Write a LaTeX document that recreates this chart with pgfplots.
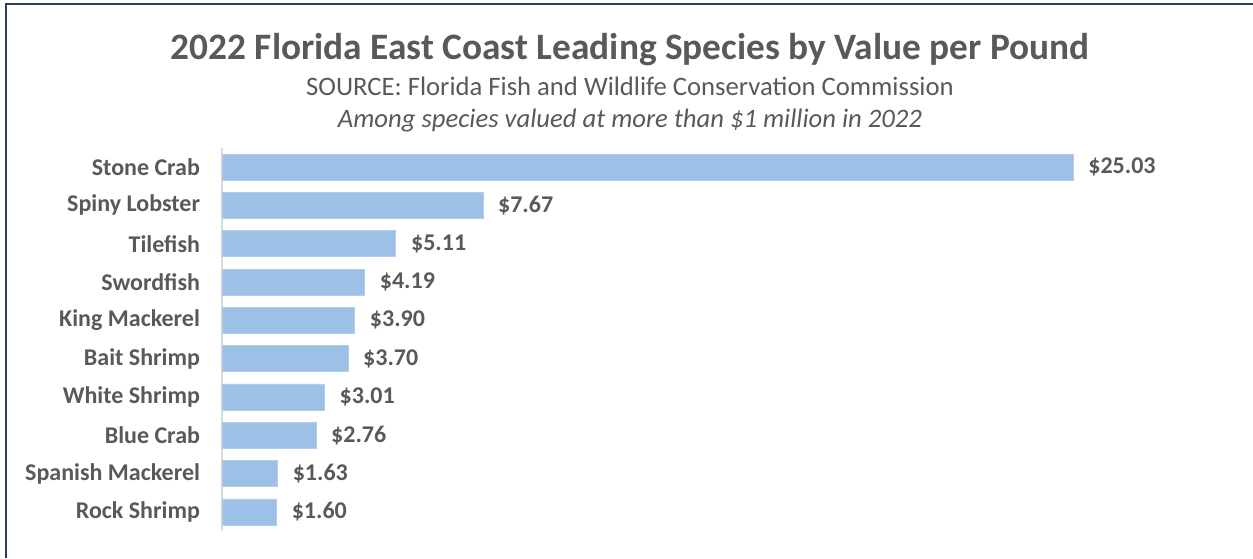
\documentclass[border=0pt]{standalone}
\usepackage{pgfplots}
\pgfplotsset{compat=1.18}
\usepackage{fontspec}
\setmainfont{Carlito}
\definecolor{txt}{HTML}{595959}
\definecolor{barc}{HTML}{9DC0E6}
\definecolor{frame}{HTML}{2B405F}
\begin{document}
\begin{tikzpicture}
\useasboundingbox (0,0) rectangle (939.75pt,-418.5pt);
\draw[frame, line width=2pt] (4.5pt,-418.5pt) -- (4.5pt,-3pt) -- (939.75pt,-3pt);
\node[font=\fontsize{28}{32}\selectfont\bfseries, text=txt, anchor=base] at (472.5pt,-44.5pt) {2022 Florida East Coast Leading Species by Value per Pound};
\node[font=\fontsize{20}{24}\selectfont, text=txt, anchor=base] at (472.5pt,-71.5pt) {SOURCE: Florida Fish and Wildlife Conservation Commission};
\node[font=\fontsize{20}{24}\selectfont\itshape, text=txt, anchor=base] at (472.5pt,-95.5pt) {Among species valued at more than \$1 million in 2022};
\pgfplotstableread{
y val
0 25.03
1 7.67
2 5.11
3 4.19
4 3.90
5 3.70
6 3.01
7 2.76
8 1.63
9 1.60
}\data
\begin{axis}[
  at={(166.5pt,-111pt)}, anchor=north west,
  scale only axis, width=765pt, height=287.25pt,
  xmin=0, xmax=30, ymin=-0.5, ymax=9.5,
  y dir=reverse,
  axis x line=none,
  axis y line=left,
  y axis line style={draw=black!15, line width=1pt, -},
  ytick={0,...,9},
  yticklabels={Stone Crab,Spiny Lobster,Tilefish,Swordfish,King Mackerel,Bait Shrimp,White Shrimp,Blue Crab,Spanish Mackerel,Rock Shrimp},
  major tick length=0pt,
  yticklabel style={font=\fontsize{18}{21}\selectfont\bfseries, text=txt, xshift=-13pt},
  xbar, bar width=19.5pt,
  nodes near coords={\$\pgfmathprintnumber[fixed,fixed zerofill,precision=2,assume math mode=true]{\pgfplotspointmeta}},
  point meta=x,
  nodes near coords style={font=\fontsize{18}{21}\selectfont\bfseries, text=txt, anchor=west, xshift=8pt},
  clip=false,
]
\addplot[fill=barc, draw=barc!80!white] table[x=val, y=y] {\data};
\end{axis}
\end{tikzpicture}
\end{document}
